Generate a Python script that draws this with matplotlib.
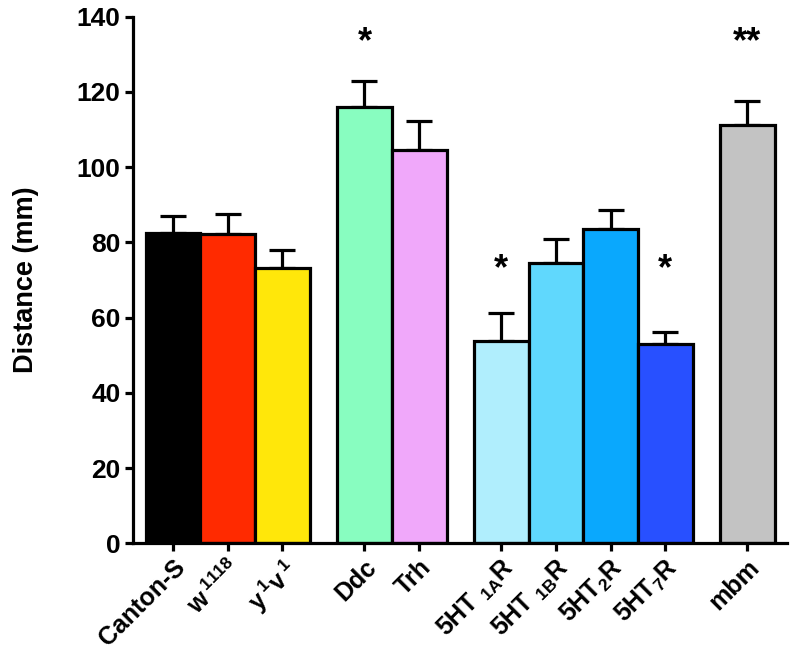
import numpy as np
import matplotlib
matplotlib.use('Agg')
import matplotlib.pyplot as plt

plt.rcParams['font.family'] = ['Liberation Sans', 'DejaVu Sans']
plt.rcParams['font.weight'] = 'bold'
plt.rcParams['mathtext.fontset'] = 'custom'
plt.rcParams['mathtext.rm'] = 'Liberation Sans:bold'
plt.rcParams['mathtext.bf'] = 'Liberation Sans:bold'
plt.rcParams['mathtext.it'] = 'Liberation Sans:bold'
plt.rcParams['mathtext.default'] = 'bf'

# data
labels = ['Canton-S', 'w$\\,^{1118}$', 'y$\\,^1$v$\\,^1$', 'Ddc', 'Trh',
          '5HT $_{1A}$R', '5HT $_{1B}$R', '5HT$_2$R', '5HT$_7$R', 'mbm']
group_sizes = [3, 2, 4, 1]
means = [82.4, 82.1, 73.3, 115.9, 104.5, 53.8, 74.4, 83.5, 53.0, 111.2]
sem = [4.7, 5.5, 4.8, 7.0, 7.8, 7.5, 6.5, 5.1, 3.2, 6.4]
colors = ['#000000', '#FF2A00', '#FFE70A', '#88FDC0', '#F0A8FA',
          '#B0EEFD', '#60D8FD', '#0AA8FD', '#2850FF', '#C3C3C3']
stars = {3: '*', 5: '*', 8: '*', 9: '**'}
star_y = {3: 133.0, 5: 72.8, 8: 72.8, 9: 133.0}

# bar positions: groups separated by half a bar
x = []
pos = 0.0
for n in group_sizes:
    for i in range(n):
        x.append(pos)
        pos += 1
    pos += 0.5
x = np.array(x)

fig = plt.figure(figsize=(7.94, 6.67), dpi=100)
ax = fig.add_axes([0.1675, 0.1855, 0.8235, 0.7895])

ax.bar(x, means, width=1.0, color=colors, edgecolor='black', linewidth=2.3, zorder=2)
ax.errorbar(x, means, yerr=[np.zeros(len(sem)), sem], fmt='none', ecolor='black',
            elinewidth=2.3, capsize=9.5, capthick=2.3, zorder=1)

for i, s in stars.items():
    ax.text(x[i], star_y[i], s, ha='center', va='center', fontsize=26, fontweight='bold')

ax.set_xlim(-0.73, 11.22)
ax.set_ylim(0, 140)
ax.set_yticks(np.arange(0, 141, 20))
ax.set_xticks(x)
ax.set_xticklabels(labels, rotation=45, ha='right', rotation_mode='anchor')

ax.spines['top'].set_visible(False)
ax.spines['right'].set_visible(False)
ax.spines['left'].set_linewidth(2.3)
ax.spines['bottom'].set_linewidth(2.3)
ax.tick_params(axis='both', width=2.3, length=5.5, labelsize=18)
ax.tick_params(axis='y', labelsize=19)
ax.tick_params(axis='x', pad=3)

ax.set_ylabel('Distance (mm)', fontsize=19.5, fontweight='bold', labelpad=27)

plt.savefig('out.png', dpi=100)
